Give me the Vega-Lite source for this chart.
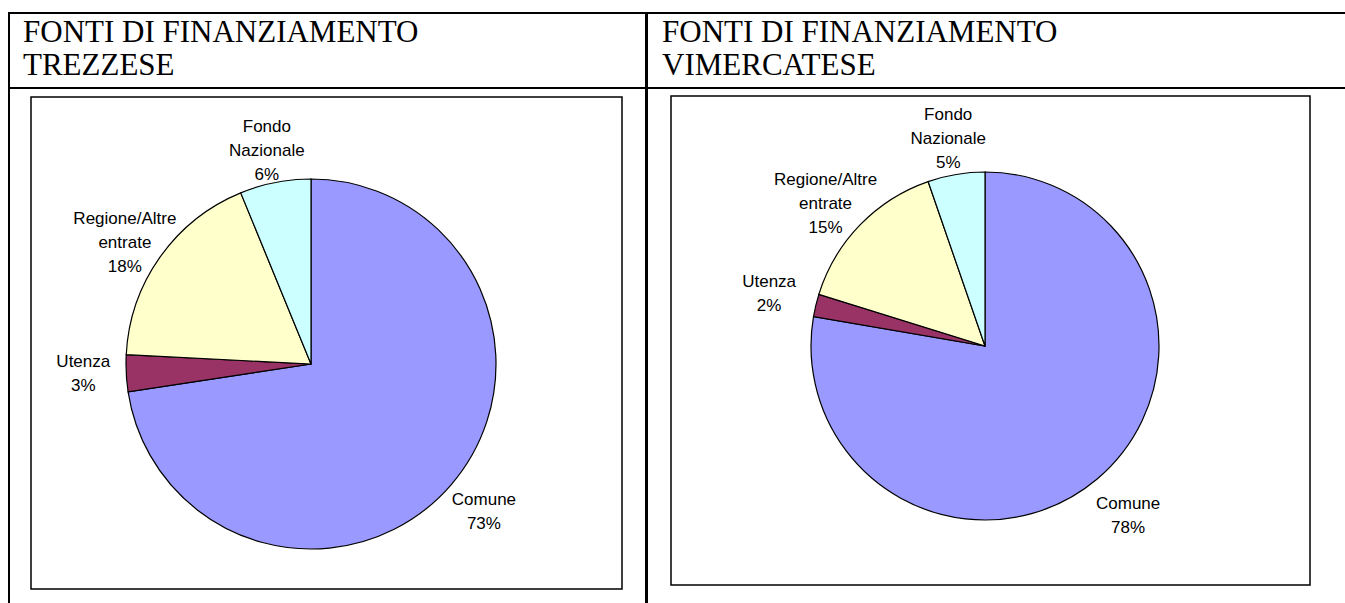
{
  "$schema": "https://vega.github.io/schema/vega-lite/v6.json",
  "background": "white",
  "padding": {"left": 8, "top": 12, "right": 0, "bottom": 0},
  "datasets": {
    "fonti": [
      {"zona": "Trezzese", "ordine": 1, "fonte": "Comune", "quota": 72.6, "etichetta": "Comune\n73%"},
      {"zona": "Trezzese", "ordine": 2, "fonte": "Utenza", "quota": 3.2, "etichetta": "Utenza\n3%"},
      {"zona": "Trezzese", "ordine": 3, "fonte": "Regione/Altre entrate", "quota": 18.0, "etichetta": "Regione/Altre\nentrate\n18%"},
      {"zona": "Trezzese", "ordine": 4, "fonte": "Fondo Nazionale", "quota": 6.2, "etichetta": "Fondo\nNazionale\n6%"},
      {"zona": "Vimercatese", "ordine": 1, "fonte": "Comune", "quota": 77.7, "etichetta": "Comune\n78%"},
      {"zona": "Vimercatese", "ordine": 2, "fonte": "Utenza", "quota": 2.1, "etichetta": "Utenza\n2%"},
      {"zona": "Vimercatese", "ordine": 3, "fonte": "Regione/Altre entrate", "quota": 14.9, "etichetta": "Regione/Altre\nentrate\n15%"},
      {"zona": "Vimercatese", "ordine": 4, "fonte": "Fondo Nazionale", "quota": 5.3, "etichetta": "Fondo\nNazionale\n5%"}
    ],
    "titoli": [
      {"zona": "Trezzese", "titolo": "FONTI DI FINANZIAMENTO\nTREZZESE"},
      {"zona": "Vimercatese", "titolo": "FONTI DI FINANZIAMENTO\nVIMERCATESE"}
    ]
  },
  "config": {
    "view": {"stroke": "black", "strokeWidth": 2},
    "concat": {"spacing": 0}
  },
  "spacing": -2,
  "hconcat": [
    {
      "spacing": 0,
      "bounds": "flush",
      "vconcat": [
        {
          "width": 637,
          "height": 75,
          "view": {"stroke": "black", "strokeWidth": 2},
          "data": {"name": "titoli"},
          "transform": [{"filter": "datum.zona == 'Trezzese'"}],
          "mark": {"type": "text", "align": "left", "baseline": "alphabetic", "x": 14, "y": 29, "font": "Liberation Serif", "fontSize": 31, "lineHeight": 33, "lineBreak": "\n", "color": "black"},
          "encoding": {"text": {"field": "titolo"}}
        },
        {
          "width": 637,
          "height": 520,
          "view": {"stroke": "black", "strokeWidth": 2},
          "data": {"name": "fonti"},
          "transform": [{"filter": "datum.zona == 'Trezzese'"}],
          "layer": [
            {
              "data": {"values": [{"cornice": 1}]},
              "mark": {"type": "rect", "x": 22, "x2": 613, "y": 9, "y2": 501, "fill": null, "stroke": "black", "strokeWidth": 1.5},
              "encoding": {}
            },
            {
              "mark": {"type": "arc", "x": 302, "y": 276, "outerRadius": 185, "stroke": "black", "strokeWidth": 1.2},
              "encoding": {
                "theta": {"field": "quota", "type": "quantitative", "stack": true},
                "order": {"field": "ordine", "type": "quantitative"},
                "color": {"field": "fonte", "type": "nominal", "legend": null,
                  "scale": {"domain": ["Comune", "Utenza", "Regione/Altre entrate", "Fondo Nazionale"], "range": ["#9999FF", "#993366", "#FFFFCC", "#CCFFFF"]}}
              }
            },
            {
              "mark": {"type": "text", "x": 302, "y": 276, "radius": 228, "dy": -13, "font": "Liberation Sans", "fontSize": 17, "lineHeight": 24, "lineBreak": "\n", "align": "center", "baseline": "middle", "color": "black"},
              "encoding": {
                "theta": {"field": "quota", "type": "quantitative", "stack": true},
                "order": {"field": "ordine", "type": "quantitative"},
                "text": {"field": "etichetta"}
              }
            }
          ]
        }
      ]
    },
    {
      "spacing": 0,
      "bounds": "flush",
      "vconcat": [
        {
          "width": 702,
          "height": 75,
          "view": {"stroke": "black", "strokeWidth": 2},
          "data": {"name": "titoli"},
          "transform": [{"filter": "datum.zona == 'Vimercatese'"}],
          "mark": {"type": "text", "align": "left", "baseline": "alphabetic", "x": 15, "y": 29, "font": "Liberation Serif", "fontSize": 31, "lineHeight": 33, "lineBreak": "\n", "color": "black"},
          "encoding": {"text": {"field": "titolo"}}
        },
        {
          "width": 702,
          "height": 520,
          "view": {"stroke": "black", "strokeWidth": 2},
          "data": {"name": "fonti"},
          "transform": [{"filter": "datum.zona == 'Vimercatese'"}],
          "layer": [
            {
              "data": {"values": [{"cornice": 1}]},
              "mark": {"type": "rect", "x": 24, "x2": 663, "y": 8, "y2": 497, "fill": null, "stroke": "black", "strokeWidth": 1.5},
              "encoding": {}
            },
            {
              "mark": {"type": "arc", "x": 338, "y": 258, "outerRadius": 174, "stroke": "black", "strokeWidth": 1.2},
              "encoding": {
                "theta": {"field": "quota", "type": "quantitative", "stack": true},
                "order": {"field": "ordine", "type": "quantitative"},
                "color": {"field": "fonte", "type": "nominal", "legend": null,
                  "scale": {"domain": ["Comune", "Utenza", "Regione/Altre entrate", "Fondo Nazionale"], "range": ["#9999FF", "#993366", "#FFFFCC", "#CCFFFF"]}}
              }
            },
            {
              "mark": {"type": "text", "x": 338, "y": 258, "radius": 222, "dy": -12, "font": "Liberation Sans", "fontSize": 17, "lineHeight": 24, "lineBreak": "\n", "align": "center", "baseline": "middle", "color": "black"},
              "encoding": {
                "theta": {"field": "quota", "type": "quantitative", "stack": true},
                "order": {"field": "ordine", "type": "quantitative"},
                "text": {"field": "etichetta"}
              }
            }
          ]
        }
      ]
    }
  ]
}
